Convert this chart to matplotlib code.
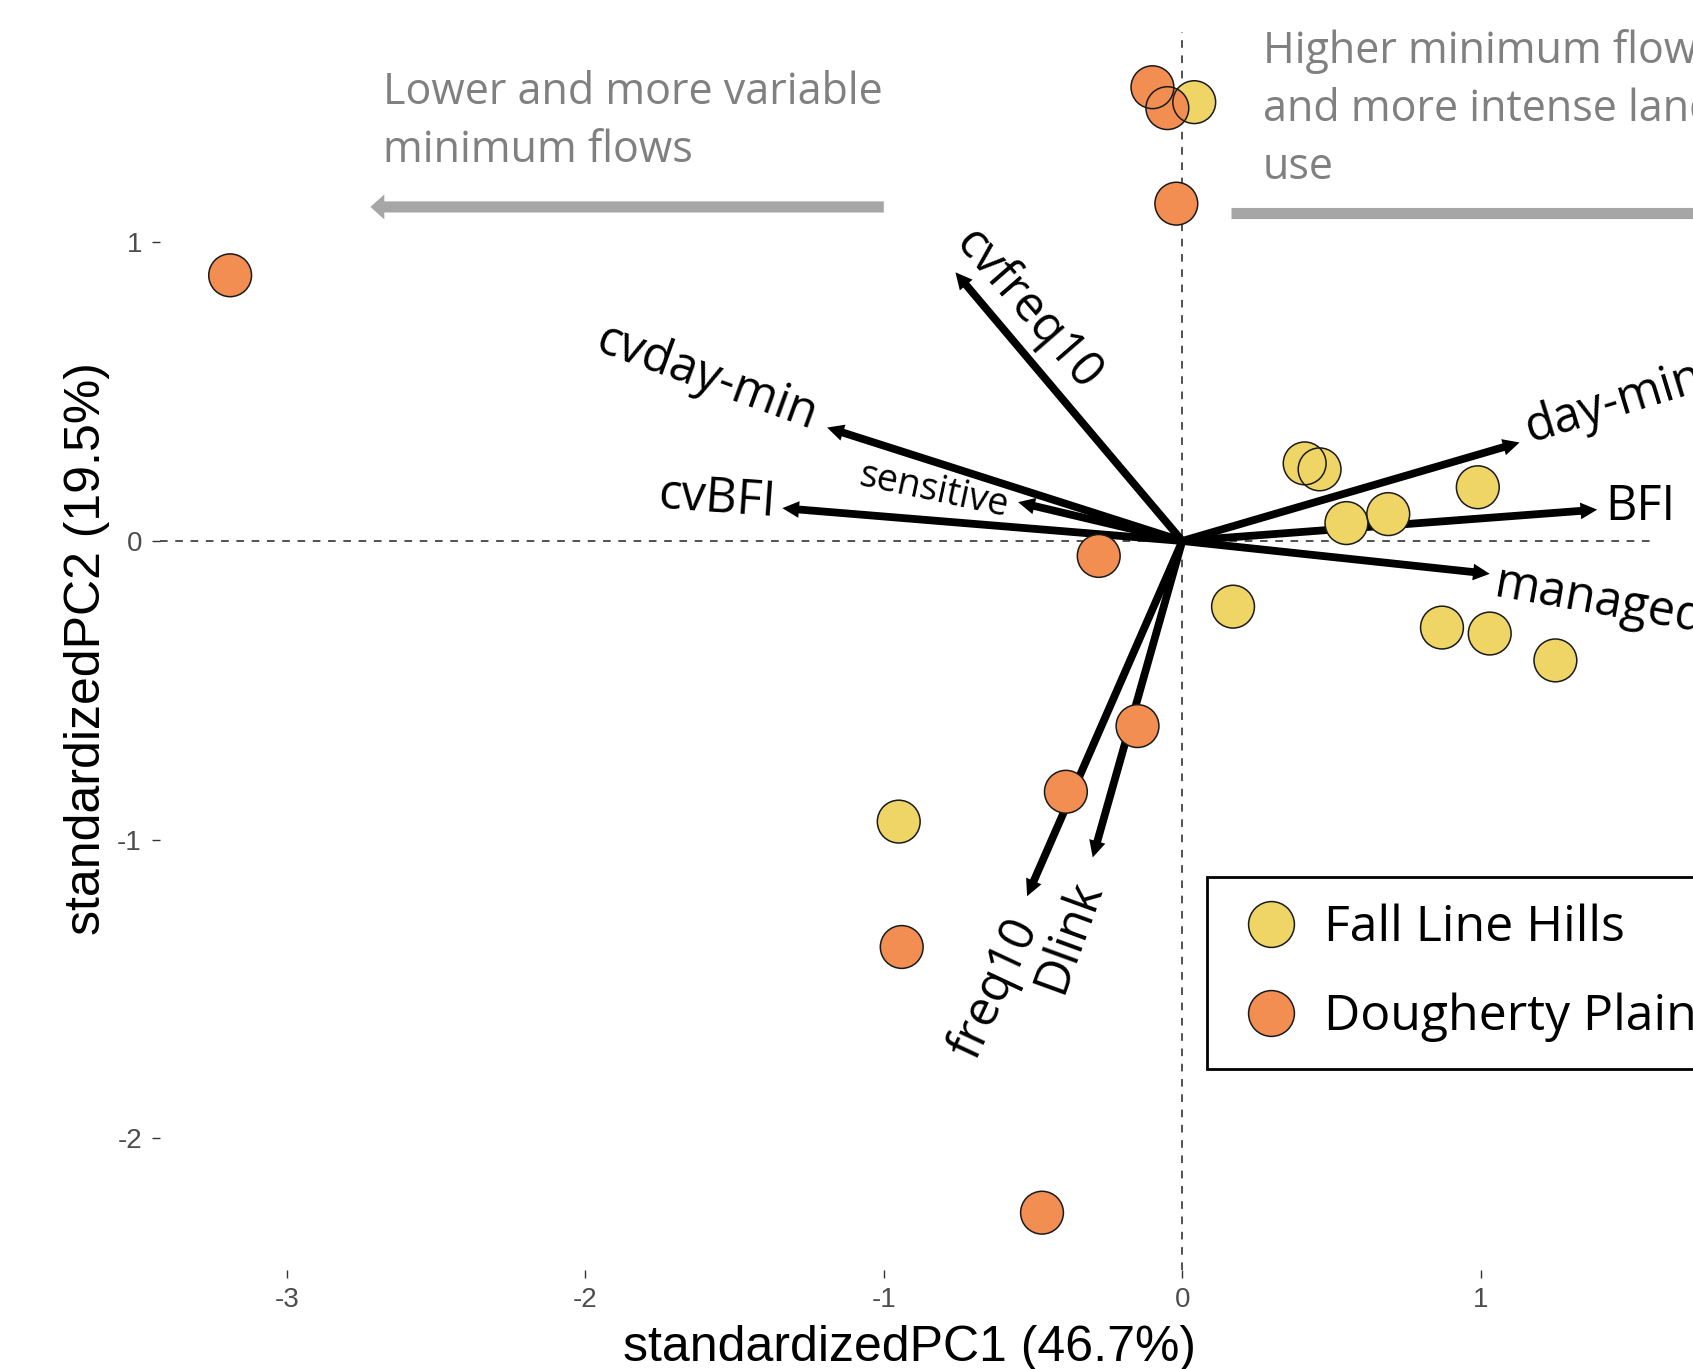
import matplotlib
matplotlib.use("Agg")
import matplotlib.pyplot as plt
from matplotlib.lines import Line2D

plt.rcParams['axes.unicode_minus'] = False

# site scores (PC1, PC2)
fl_pc1 = [0.04, 0.41, 0.46, 0.55, 0.69, 0.99, 0.17, 0.87, 1.03, 1.25, -0.95]
fl_pc2 = [1.47, 0.26, 0.24, 0.06, 0.09, 0.18, -0.22, -0.29, -0.31, -0.40, -0.94]
dp_pc1 = [-3.19, -0.10, -0.05, -0.02, -0.28, -0.15, -0.39, -0.94, -0.47]
dp_pc2 = [0.89, 1.52, 1.45, 1.13, -0.05, -0.62, -0.84, -1.36, -2.25]

# variable loadings
var_names = ['cvfreq10', 'cvday-min', 'cvBFI', 'sensitive', 'day-min',
             'BFI', 'managed', 'freq10', 'Dlink']
load_pc1 = [-0.76, -1.19, -1.34, -0.55, 1.13, 1.39, 1.03, -0.52, -0.30]
load_pc2 = [0.90, 0.38, 0.11, 0.13, 0.33, 0.105, -0.11, -1.19, -1.06]

groups = ['Fall Line Hills', 'Dougherty Plain']
x_ticks = [-3, -2, -1, 0, 1]
y_ticks = [-2, -1, 0, 1]
x_title = 'standardizedPC1 (46.7%)'
y_title = 'standardizedPC2 (19.5%)'
note_left = 'Lower and more variable\nminimum flows'
note_right = 'Higher minimum flows\nand more intense land\nuse'

yellow = '#EFD565'
orange = '#F28E52'
grey_txt = '#808080'
grey_arrow = '#A6A6A6'
label_font = 'Open Sans'

fig = plt.figure(figsize=(16.93, 13.69), dpi=100)
ax = fig.add_axes([160 / 1693, 99 / 1369, 1493 / 1693, 1238 / 1369])
ax.set_xlim(-3.425, 1.577)
ax.set_ylim(-2.442, 1.705)
for s in ax.spines.values():
    s.set_visible(False)

ax.axhline(0, color='#222222', lw=1.1, ls=(0, (5, 5)), zorder=1)
ax.axvline(0, color='#222222', lw=1.1, ls=(0, (5, 5)), zorder=1)

# loading arrows
for x, y in zip(load_pc1, load_pc2):
    ax.annotate('', xy=(x, y), xytext=(0, 0),
                arrowprops=dict(arrowstyle='simple,head_length=0.6,head_width=0.6,tail_width=0.28',
                                fc='black', ec='black', lw=0, mutation_scale=20,
                                shrinkA=0, shrinkB=0), zorder=2)

# points: fill first, outlines on top so overlaps stay visible
ax.scatter(fl_pc1, fl_pc2, s=950, c=yellow, edgecolors='none', zorder=3)
ax.scatter(dp_pc1, dp_pc2, s=950, c=orange, edgecolors='none', zorder=3)
ax.scatter(fl_pc1 + dp_pc1, fl_pc2 + dp_pc2, s=950, facecolors='none',
           edgecolors='#1a1a1a', linewidths=1.1, zorder=4)

# arrow labels (x, y, rotation, ha, fontsize)
label_pos = {
    'cvfreq10': (-0.52, 0.775, -49, 'center', 35),
    'cvday-min': (-1.595, 0.547, -20, 'center', 35),
    'cvBFI': (-1.56, 0.138, -4, 'center', 35),
    'sensitive': (-0.835, 0.167, -12, 'center', 27),
    'day-min': (1.15, 0.373, 17, 'left', 35),
    'BFI': (1.418, 0.112, 0, 'left', 35),
    'managed': (1.049, -0.141, -10, 'left', 35),
    'freq10': (-0.628, -1.50, 65, 'center', 35),
    'Dlink': (-0.378, -1.326, 70, 'center', 35),
}
for name in var_names:
    lx, ly, rot, ha, fs = label_pos[name]
    ax.text(lx, ly, name, rotation=rot, ha=ha, va='center',
            rotation_mode='anchor', fontsize=fs, family=label_font,
            color='black', zorder=5, clip_on=False)

# direction notes
ax.text(-2.678, 1.575, note_left, ha='left', va='top', fontsize=31,
        family=label_font, color=grey_txt, linespacing=1.40)
ax.text(0.27, 1.715, note_right, ha='left', va='top', fontsize=31,
        family=label_font, color=grey_txt, linespacing=1.40, clip_on=False)
ax.annotate('', xy=(-2.72, 1.119), xytext=(-1.0, 1.119),
            arrowprops=dict(arrowstyle='simple,head_length=0.5,head_width=0.9,tail_width=0.4',
                            fc=grey_arrow, ec=grey_arrow, lw=0, mutation_scale=20,
                            shrinkA=0, shrinkB=0), annotation_clip=False)
ax.plot([0.163, 1.9], [1.099, 1.099], color=grey_arrow, lw=8,
        solid_capstyle='butt', clip_on=False)

# ticks and titles
ax.set_xticks(x_ticks)
ax.set_yticks(y_ticks)
ax.tick_params(axis='both', length=6, width=1, color='#333333',
               labelcolor='#4D4D4D', labelsize=20)
ax.tick_params(axis='x', pad=6)
ax.tick_params(axis='y', pad=7)
for t in ax.get_xticklabels() + ax.get_yticklabels():
    t.set_family('Liberation Sans')

ax.set_xlabel(x_title, fontsize=36, family='Liberation Sans', va='center')
ax.xaxis.set_label_coords(0.502, -0.063)
ax.set_ylabel(y_title, fontsize=36, family='Liberation Sans', va='center')
ax.yaxis.set_label_coords(-0.049, 0.502)

# legend
handles = [Line2D([], [], marker='o', ls='none', ms=33, mfc=yellow, mec='#1a1a1a', mew=1.1),
           Line2D([], [], marker='o', ls='none', ms=33, mfc=orange, mec='#1a1a1a', mew=1.1)]
leg = fig.legend(handles, groups, loc='upper left', bbox_to_anchor=(1207 / 1693, 1 - 877 / 1369),
                 borderaxespad=0, frameon=True, fancybox=False, framealpha=1,
                 borderpad=0.53, handlelength=1.5, handletextpad=0.3, labelspacing=0.8,
                 prop={'family': label_font, 'size': 36})
leg.get_frame().set_edgecolor('black')
leg.get_frame().set_linewidth(2)

fig.savefig('out.png', dpi=100)
